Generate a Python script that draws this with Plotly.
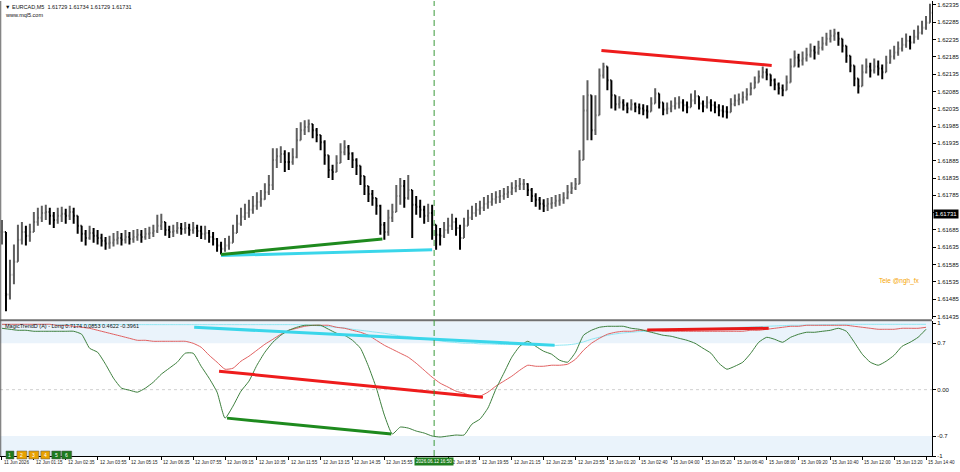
import plotly.graph_objects as go

# ---------------- price data (10-minute bars, index = bar number) ----------------
closes = [
 1.61679, 1.61499, 1.61556, 1.61593, 1.61657, 1.61679, 1.61668, 1.61679, 1.61708, 1.61720,
 1.61734, 1.61737, 1.61726, 1.61714, 1.61726, 1.61732, 1.61726, 1.61737, 1.61726, 1.61697,
 1.61674, 1.61662, 1.61676, 1.61668, 1.61662, 1.61654, 1.61646, 1.61648, 1.61657, 1.61662,
 1.61657, 1.61665, 1.61659, 1.61665, 1.61671, 1.61665, 1.61674, 1.61676, 1.61682, 1.61697,
 1.61708, 1.61685, 1.61679, 1.61682, 1.61691, 1.61688, 1.61691, 1.61685, 1.61691, 1.61682,
 1.61674, 1.61676, 1.61665, 1.61659, 1.61640, 1.61631, 1.61640, 1.61648, 1.61676, 1.61703,
 1.61723, 1.61734, 1.61743, 1.61755, 1.61766, 1.61774, 1.61794, 1.61815, 1.61887, 1.61898,
 1.61904, 1.61881, 1.61881, 1.61895, 1.61944, 1.61973, 1.61982, 1.61991, 1.61973, 1.61959,
 1.61938, 1.61901, 1.61858, 1.61852, 1.61878, 1.61909, 1.61924, 1.61906, 1.61887, 1.61870,
 1.61841, 1.61812, 1.61789, 1.61777, 1.61755, 1.61700, 1.61679, 1.61720, 1.61737, 1.61783,
 1.61812, 1.61777, 1.61800, 1.61758, 1.61752, 1.61743, 1.61726, 1.61734, 1.61700, 1.61671,
 1.61668, 1.61685, 1.61697, 1.61708, 1.61691, 1.61662, 1.61697, 1.61720, 1.61734, 1.61743,
 1.61749, 1.61761, 1.61766, 1.61774, 1.61780, 1.61783, 1.61789, 1.61794, 1.61806, 1.61812,
 1.61818, 1.61818, 1.61800, 1.61783, 1.61772, 1.61761, 1.61755, 1.61761, 1.61763, 1.61769,
 1.61772, 1.61777, 1.61794, 1.61806, 1.61818, 1.61887, 1.62030, 1.62074, 1.61973, 1.62016,
 1.62131, 1.62157, 1.62117, 1.62074, 1.62048, 1.62053, 1.62045, 1.62036, 1.62048, 1.62039,
 1.62036, 1.62030, 1.62027, 1.62050, 1.62079, 1.62053, 1.62033, 1.62036, 1.62042, 1.62050,
 1.62053, 1.62045, 1.62039, 1.62059, 1.62071, 1.62050, 1.62042, 1.62053, 1.62045, 1.62039,
 1.62030, 1.62027, 1.62025, 1.62048, 1.62059, 1.62062, 1.62068, 1.62076, 1.62094, 1.62111,
 1.62128, 1.62140, 1.62134, 1.62117, 1.62105, 1.62094, 1.62088, 1.62111, 1.62157, 1.62183,
 1.62174, 1.62180, 1.62191, 1.62203, 1.62197, 1.62211, 1.62223, 1.62237, 1.62246, 1.62252,
 1.62237, 1.62217, 1.62188, 1.62160, 1.62122, 1.62100, 1.62140, 1.62157, 1.62145, 1.62157,
 1.62151, 1.62140, 1.62168, 1.62186, 1.62197, 1.62209, 1.62220, 1.62231, 1.62226, 1.62243,
 1.62254, 1.62269, 1.62283, 1.62312]

highs = [
 1.61714, 1.61657, 1.61599, 1.61643, 1.61700, 1.61708, 1.61697, 1.61703, 1.61737, 1.61749,
 1.61755, 1.61758, 1.61749, 1.61737, 1.61749, 1.61752, 1.61746, 1.61755, 1.61749, 1.61726,
 1.61697, 1.61685, 1.61697, 1.61691, 1.61685, 1.61674, 1.61665, 1.61668, 1.61676, 1.61682,
 1.61676, 1.61685, 1.61679, 1.61685, 1.61688, 1.61685, 1.61691, 1.61694, 1.61700, 1.61729,
 1.61732, 1.61703, 1.61697, 1.61700, 1.61708, 1.61705, 1.61708, 1.61703, 1.61708, 1.61700,
 1.61697, 1.61697, 1.61685, 1.61679, 1.61662, 1.61651, 1.61662, 1.61668, 1.61700, 1.61729,
 1.61749, 1.61761, 1.61772, 1.61783, 1.61794, 1.61800, 1.61820, 1.61844, 1.61921, 1.61921,
 1.61927, 1.61915, 1.61909, 1.61921, 1.61979, 1.61996, 1.62002, 1.62004, 1.61991, 1.61979,
 1.61959, 1.61944, 1.61901, 1.61873, 1.61901, 1.61935, 1.61944, 1.61930, 1.61909, 1.61892,
 1.61864, 1.61835, 1.61812, 1.61800, 1.61777, 1.61758, 1.61708, 1.61743, 1.61761, 1.61815,
 1.61835, 1.61829, 1.61844, 1.61786, 1.61783, 1.61772, 1.61755, 1.61761, 1.61758, 1.61700,
 1.61691, 1.61708, 1.61720, 1.61732, 1.61720, 1.61700, 1.61720, 1.61743, 1.61755, 1.61763,
 1.61769, 1.61780, 1.61786, 1.61792, 1.61797, 1.61800, 1.61806, 1.61812, 1.61823, 1.61829,
 1.61835, 1.61832, 1.61820, 1.61806, 1.61791, 1.61780, 1.61774, 1.61777, 1.61780, 1.61786,
 1.61789, 1.61794, 1.61815, 1.61823, 1.61835, 1.61915, 1.62074, 1.62117, 1.62059, 1.62074,
 1.62151, 1.62168, 1.62151, 1.62103, 1.62071, 1.62071, 1.62062, 1.62053, 1.62062, 1.62053,
 1.62050, 1.62048, 1.62045, 1.62068, 1.62094, 1.62074, 1.62050, 1.62053, 1.62059, 1.62068,
 1.62071, 1.62062, 1.62056, 1.62079, 1.62088, 1.62068, 1.62059, 1.62071, 1.62062, 1.62056,
 1.62048, 1.62045, 1.62042, 1.62065, 1.62076, 1.62079, 1.62085, 1.62094, 1.62111, 1.62128,
 1.62145, 1.62157, 1.62151, 1.62134, 1.62122, 1.62111, 1.62105, 1.62131, 1.62180, 1.62203,
 1.62194, 1.62200, 1.62211, 1.62223, 1.62217, 1.62231, 1.62243, 1.62254, 1.62263, 1.62266,
 1.62257, 1.62237, 1.62209, 1.62180, 1.62145, 1.62122, 1.62163, 1.62180, 1.62168, 1.62180,
 1.62174, 1.62163, 1.62188, 1.62206, 1.62217, 1.62229, 1.62240, 1.62252, 1.62246, 1.62263,
 1.62275, 1.62289, 1.62303, 1.62338]

lows = [
 1.61643, 1.61450, 1.61484, 1.61528, 1.61593, 1.61643, 1.61640, 1.61651, 1.61679, 1.61697,
 1.61708, 1.61714, 1.61700, 1.61691, 1.61703, 1.61708, 1.61703, 1.61714, 1.61703, 1.61674,
 1.61651, 1.61640, 1.61657, 1.61648, 1.61643, 1.61637, 1.61628, 1.61631, 1.61637, 1.61643,
 1.61640, 1.61646, 1.61643, 1.61648, 1.61654, 1.61648, 1.61657, 1.61659, 1.61665, 1.61676,
 1.61685, 1.61668, 1.61662, 1.61665, 1.61674, 1.61671, 1.61674, 1.61668, 1.61674, 1.61665,
 1.61659, 1.61657, 1.61648, 1.61640, 1.61622, 1.61614, 1.61622, 1.61628, 1.61651, 1.61679,
 1.61697, 1.61714, 1.61720, 1.61732, 1.61743, 1.61752, 1.61772, 1.61786, 1.61800, 1.61864,
 1.61878, 1.61852, 1.61858, 1.61873, 1.61892, 1.61944, 1.61959, 1.61967, 1.61950, 1.61938,
 1.61915, 1.61873, 1.61835, 1.61829, 1.61852, 1.61887, 1.61901, 1.61887, 1.61864, 1.61844,
 1.61815, 1.61786, 1.61766, 1.61755, 1.61729, 1.61671, 1.61657, 1.61668, 1.61708, 1.61743,
 1.61758, 1.61749, 1.61772, 1.61662, 1.61729, 1.61720, 1.61703, 1.61708, 1.61657, 1.61628,
 1.61640, 1.61662, 1.61674, 1.61685, 1.61668, 1.61628, 1.61674, 1.61700, 1.61714, 1.61723,
 1.61729, 1.61740, 1.61746, 1.61755, 1.61761, 1.61763, 1.61772, 1.61777, 1.61786, 1.61794,
 1.61800, 1.61800, 1.61783, 1.61766, 1.61752, 1.61743, 1.61737, 1.61740, 1.61746, 1.61752,
 1.61755, 1.61761, 1.61774, 1.61789, 1.61800, 1.61864, 1.61887, 1.61944, 1.61944, 1.61959,
 1.62030, 1.62122, 1.62088, 1.62036, 1.62030, 1.62036, 1.62030, 1.62022, 1.62030, 1.62025,
 1.62019, 1.62016, 1.62007, 1.62030, 1.62053, 1.62036, 1.62016, 1.62019, 1.62025, 1.62033,
 1.62036, 1.62027, 1.62022, 1.62042, 1.62048, 1.62033, 1.62025, 1.62036, 1.62027, 1.62022,
 1.62013, 1.62010, 1.62007, 1.62030, 1.62042, 1.62045, 1.62050, 1.62059, 1.62074, 1.62094,
 1.62111, 1.62122, 1.62117, 1.62100, 1.62088, 1.62076, 1.62071, 1.62094, 1.62131, 1.62160,
 1.62154, 1.62160, 1.62171, 1.62183, 1.62177, 1.62191, 1.62203, 1.62217, 1.62226, 1.62231,
 1.62217, 1.62197, 1.62168, 1.62140, 1.62100, 1.62079, 1.62117, 1.62137, 1.62125, 1.62137,
 1.62131, 1.62120, 1.62148, 1.62165, 1.62177, 1.62188, 1.62200, 1.62211, 1.62206, 1.62223,
 1.62234, 1.62249, 1.62263, 1.62283]

# ---------------- oscillator data (every 2nd bar) ----------------
osc_green = [
 0.925, 0.910, 0.895, 0.895, 0.880, 0.880, 0.880, 0.880, 0.880, 0.880,
 0.835, 0.624, 0.564, 0.383, 0.173, 0.023, -0.008, -0.038, 0.023, 0.113,
 0.233, 0.323, 0.414, 0.549, 0.549, 0.353, 0.173, -0.038, -0.430, -0.248,
 -0.023, 0.128, 0.368, 0.564, 0.714, 0.820, 0.895, 0.940, 0.970, 0.970,
 0.970, 0.910, 0.850, 0.820, 0.744, 0.624, 0.353, 0.023, -0.383, -0.669,
 -0.564, -0.579, -0.624, -0.654, -0.699, -0.714, -0.699, -0.684, -0.684, -0.519,
 -0.444, -0.278, 0.008, 0.248, 0.489, 0.654, 0.729, 0.654, 0.579, 0.534,
 0.444, 0.414, 0.564, 0.820, 0.895, 0.940, 0.955, 0.955, 0.955, 0.925,
 0.910, 0.880, 0.850, 0.820, 0.805, 0.774, 0.744, 0.699, 0.624, 0.549,
 0.398, 0.308, 0.353, 0.414, 0.549, 0.714, 0.789, 0.759, 0.714, 0.789,
 0.835, 0.865, 0.865, 0.880, 0.895, 0.925, 0.880, 0.714, 0.534, 0.414,
 0.368, 0.429, 0.519, 0.654, 0.714, 0.789, 0.910]

osc_red = [
 0.985, 0.985, 0.985, 0.985, 0.985, 0.985, 0.985, 0.970, 0.970, 0.955,
 0.940, 0.925, 0.895, 0.865, 0.835, 0.805, 0.774, 0.744, 0.744, 0.729,
 0.729, 0.729, 0.729, 0.729, 0.699, 0.639, 0.519, 0.414, 0.308, 0.323,
 0.429, 0.504, 0.594, 0.684, 0.759, 0.835, 0.895, 0.925, 0.955, 0.970,
 0.970, 0.970, 0.940, 0.925, 0.895, 0.865, 0.820, 0.744, 0.669, 0.609,
 0.549, 0.489, 0.398, 0.293, 0.188, 0.098, 0.038, -0.023, -0.053, -0.098,
 -0.098, -0.038, 0.053, 0.128, 0.203, 0.293, 0.368, 0.353, 0.353, 0.368,
 0.368, 0.383, 0.459, 0.594, 0.699, 0.774, 0.835, 0.865, 0.880, 0.880,
 0.895, 0.895, 0.895, 0.880, 0.880, 0.880, 0.880, 0.880, 0.880, 0.880,
 0.880, 0.880, 0.880, 0.880, 0.895, 0.895, 0.910, 0.925, 0.940, 0.955,
 0.955, 0.970, 0.970, 0.970, 0.970, 0.970, 0.970, 0.955, 0.940, 0.925,
 0.910, 0.910, 0.910, 0.925, 0.925, 0.925, 0.940]

osc_cyan = [
 0.980, 0.980, 0.980, 0.980, 0.980, 0.980, 0.980, 0.980, 0.980, 0.980,
 0.980, 0.980, 0.980, 0.980, 0.980, 0.980, 0.980, 0.980, 0.980, 0.980,
 0.980, 0.980, 0.980, 0.980, 0.980, 0.980, 0.980, 0.980, 0.980, 0.980,
 0.980, 0.980, 0.980, 0.980, 0.980, 0.980, 0.980, 0.980, 0.975, 0.970,
 0.960, 0.950, 0.940, 0.930, 0.910, 0.895, 0.880, 0.865, 0.850, 0.830,
 0.810, 0.800, 0.780, 0.765, 0.750, 0.735, 0.720, 0.710, 0.700, 0.700,
 0.690, 0.690, 0.685, 0.680, 0.680, 0.675, 0.670, 0.670, 0.665, 0.665,
 0.670, 0.675, 0.690, 0.720, 0.760, 0.790, 0.820, 0.840, 0.855, 0.865,
 0.875, 0.880, 0.885, 0.890, 0.895, 0.900, 0.905, 0.910, 0.915, 0.920,
 0.925, 0.930, 0.935, 0.940, 0.945, 0.950, 0.955, 0.960, 0.965, 0.970,
 0.970, 0.975, 0.975, 0.980, 0.980, 0.985, 0.985, 0.985, 0.985, 0.985,
 0.985, 0.985, 0.985, 0.985, 0.985, 0.985, 0.985]

# ---------------- drawn objects (bar index, value) ----------------
price_green_line = {"x": [55, 95.5], "y": [1.61614, 1.61659]}
price_cyan_line = {"x": [55, 108], "y": [1.61611, 1.61628]}
price_red_line = {"x": [150.5, 193.25], "y": [1.62203, 1.62160]}
osc_cyan_line = {"x": [48.25, 138.75], "y": [0.94, 0.669]}
osc_red_line = {"x": [54.5, 120.75], "y": [0.278, -0.113]}
osc_green_line = {"x": [56.5, 97.75], "y": [-0.429, -0.669]}
osc_red_line2 = {"x": [162, 192.5], "y": [0.90, 0.925]}
cursor_bar = 108.5
cursor_label = "2026.06.12 16:50"
last_price = 1.61731

# ---------------- axis labels ----------------
time_tick_bars = [0, 8, 16, 24, 32, 40, 48, 56, 64, 72, 80, 88, 96, 104, 112,
                  120, 128, 136, 144, 152, 160, 168, 176, 184, 192, 200, 208, 216, 224, 232]
time_tick_labels = ["11 Jun 2026", "12 Jun 01:15", "12 Jun 02:35", "12 Jun 03:55", "12 Jun 05:15",
                    "12 Jun 06:35", "12 Jun 07:55", "12 Jun 09:15", "12 Jun 10:35", "12 Jun 11:55",
                    "12 Jun 13:15", "12 Jun 14:35", "12 Jun 15:55", "", "12 Jun 18:35",
                    "12 Jun 19:55", "12 Jun 21:15", "12 Jun 22:35", "12 Jun 23:55", "15 Jun 01:20",
                    "15 Jun 02:40", "15 Jun 04:00", "15 Jun 05:20", "15 Jun 06:40", "15 Jun 08:00",
                    "15 Jun 09:20", "15 Jun 10:40", "15 Jun 12:00", "15 Jun 13:20", "15 Jun 14:40"]
price_ticks = [1.61435, 1.61485, 1.61535, 1.61585, 1.61635, 1.61685, 1.61735, 1.61785, 1.61835,
               1.61885, 1.61935, 1.61985, 1.62035, 1.62085, 1.62135, 1.62185, 1.62235, 1.62285, 1.62335]
price_tick_text = ["1.61435", "1.61485", "1.61535", "1.61585", "1.61635", "1.61685", "", "1.61785",
                   "1.61835", "1.61885", "1.61935", "1.61985", "1.62035", "1.62085", "1.62135",
                   "1.62185", "1.62235", "1.62285", "1.62335"]
osc_ticks = [1, 0.7, 0, -0.7, -1]
osc_tick_text = ["1", "0.7", "0.00", "-0.7", "-1"]

FONT = "Liberation Sans"
bars = list(range(len(closes)))
opens = [closes[0]] + closes[:-1]
highs = [max(h, o, c) for h, o, c in zip(highs, opens, closes)]
lows = [min(l, o, c) for l, o, c in zip(lows, opens, closes)]
osc_x = list(range(0, 2 * len(osc_green), 2))

fig = go.Figure()
fig.add_trace(go.Ohlc(x=bars, open=opens, high=highs, low=lows, close=closes,
                      xaxis="x", yaxis="y", tickwidth=0.3,
                      increasing=dict(line=dict(color="#5e5e5e", width=2)),
                      decreasing=dict(line=dict(color="#000000", width=2)),
                      showlegend=False, hoverinfo="skip"))

def seg(d, color, width, xa="x", ya="y"):
    fig.add_trace(go.Scatter(x=d["x"], y=d["y"], mode="lines", xaxis=xa, yaxis=ya,
                             line=dict(color=color, width=width), showlegend=False, hoverinfo="skip"))

seg(price_cyan_line, "#3ad6ea", 3)
seg(price_green_line, "#1e8a1e", 3)
seg(price_red_line, "#ee1c1c", 3)

fig.add_trace(go.Scatter(x=osc_x, y=osc_cyan, mode="lines", xaxis="x2", yaxis="y2",
                         line=dict(color="#8fe6f2", width=1, shape="spline", smoothing=0.5),
                         showlegend=False, hoverinfo="skip"))
fig.add_trace(go.Scatter(x=osc_x, y=osc_red, mode="lines", xaxis="x2", yaxis="y2",
                         line=dict(color="#e06060", width=1, shape="spline", smoothing=0.5),
                         showlegend=False, hoverinfo="skip"))
fig.add_trace(go.Scatter(x=osc_x, y=osc_green, mode="lines", xaxis="x2", yaxis="y2",
                         line=dict(color="#3d7f3d", width=1, shape="spline", smoothing=0.5),
                         showlegend=False, hoverinfo="skip"))
seg(osc_cyan_line, "#3ad6ea", 3, "x2", "y2")
seg(osc_red_line, "#ee1c1c", 3, "x2", "y2")
seg(osc_green_line, "#1e8a1e", 3, "x2", "y2")
seg(osc_red_line2, "#e81818", 3, "x2", "y2")

band = "#eaf3fb"
shapes = [
    dict(type="rect", xref="paper", x0=0, x1=1, yref="y2", y0=0.7, y1=1.03,
         fillcolor=band, line=dict(width=0), layer="below"),
    dict(type="rect", xref="paper", x0=0, x1=1, yref="y2", y0=-1, y1=-0.7,
         fillcolor=band, line=dict(width=0), layer="below"),
    dict(type="line", xref="paper", x0=0, x1=1, yref="y2", y0=0, y1=0,
         line=dict(color="#d0d0d0", width=1, dash="dot"), layer="below"),
    dict(type="line", xref="paper", x0=0, x1=1, yref="paper", y0=0.2982, y1=0.2982,
         line=dict(color="#707070", width=2)),
    dict(type="line", xref="paper", x0=0.0008, x1=0.0008, yref="paper", y0=0, y1=1,
         line=dict(color="#606060", width=1)),
    dict(type="line", xref="x", x0=cursor_bar, x1=cursor_bar, yref="paper", y0=0, y1=1,
         line=dict(color="#3a9a3a", width=1, dash="6px,4px")),
]

# bottom-left buttons
btn_cols = ["#1e7a1e", "#e8a100", "#e8a100", "#e8a100", "#1e7a1e", "#1e7a1e"]
btn_x = [(6, 14), (17, 27), (29, 39), (41, 50), (52, 61), (62, 72)]
annotations = []
for i, ((a, b), c) in enumerate(zip(btn_x, btn_cols)):
    shapes.append(dict(type="rect", xref="paper", x0=a / 936, x1=b / 936, yref="paper",
                       y0=(456 - 459) / 456, y1=(456 - 451) / 456, fillcolor=c,
                       line=dict(color="#555555", width=0.5)))
    annotations.append(dict(xref="paper", yref="paper", x=(a + b) / 2 / 936, y=(456 - 455) / 456,
                            text=str(i + 1), showarrow=False, font=dict(size=5, color="white", family=FONT),
                            xanchor="center", yanchor="middle"))

for tb, tl in zip(time_tick_bars, time_tick_labels):
    if tl:
        annotations.append(dict(xref="x2", x=tb, yref="paper", y=0, text=tl, showarrow=False,
                                xanchor="left", yanchor="top", xshift=0, yshift=-2,
                                font=dict(size=4.6, color="#222222", family=FONT)))
annotations.append(dict(xref="x2", x=cursor_bar, yref="paper", y=0, text=cursor_label, showarrow=False,
                        xanchor="center", yanchor="top", yshift=-1, bgcolor="#1f7f1f", borderpad=1,
                        font=dict(size=4.6, color="white", family=FONT)))
annotations.append(dict(xref="paper", x=1, yref="y", y=last_price, text="1.61731", showarrow=False,
                        xanchor="left", yanchor="middle", xshift=1, bgcolor="black", borderpad=1,
                        font=dict(size=6, color="white", family=FONT)))
annotations.append(dict(xref="paper", x=3 / 936, yref="paper", y=1 - 1 / 456, showarrow=False,
                        text="▼ EURCAD,M5  1.61729 1.61734 1.61729 1.61731", xanchor="left", yanchor="top",
                        font=dict(size=5.5, color="#111111", family=FONT)))
annotations.append(dict(xref="paper", x=3 / 936, yref="paper", y=1 - 9 / 456, showarrow=False,
                        text="www.mql5.com", xanchor="left", yanchor="top",
                        font=dict(size=5.5, color="#111111", family=FONT)))
annotations.append(dict(xref="paper", x=3 / 936, yref="paper", y=(456 - 321) / 456, showarrow=False,
                        text="MagicTrendD (A) - Long 0.7174 0.0853 0.4622 -0.3961", xanchor="left",
                        yanchor="top", font=dict(size=5.5, color="#111111", family=FONT)))
annotations.append(dict(xref="paper", x=926 / 936, yref="paper", y=(456 - 281) / 456, showarrow=False,
                        text="Tele @ngh_fx", xanchor="right", yanchor="middle",
                        font=dict(size=6.5, color="#f5a300", family=FONT)))

xr = [-0.5, 233.5]
fig.update_layout(
    width=960, height=472, margin=dict(l=0, r=24, t=0, b=16),
    paper_bgcolor="white", plot_bgcolor="white",
    font=dict(family=FONT, size=6, color="#111111"),
    showlegend=False, hovermode=False,
    xaxis=dict(domain=[0, 1], range=xr, anchor="y", showticklabels=False, showgrid=False,
               zeroline=False, showline=False, rangeslider=dict(visible=False), fixedrange=True),
    yaxis=dict(domain=[0.3004, 1], range=[1.61427, 1.62346], side="right", anchor="x",
               tickvals=price_ticks, ticktext=price_tick_text, ticks="outside", ticklen=3,
               tickcolor="black", showline=True, linecolor="black", linewidth=1, showgrid=False,
               zeroline=False, tickfont=dict(size=6, family=FONT, color="#111111")),
    xaxis2=dict(domain=[0, 1], range=xr, anchor="y2", tickvals=time_tick_bars, ticks="outside",
                ticklen=3, tickcolor="black", showticklabels=False, showline=True, linecolor="black",
                linewidth=1, showgrid=False, zeroline=False),
    yaxis2=dict(domain=[0, 0.296], range=[-1, 1.03], side="right", anchor="x2",
                tickvals=osc_ticks, ticktext=osc_tick_text, ticks="outside", ticklen=3,
                tickcolor="black", showline=True, linecolor="black", linewidth=1, showgrid=False,
                zeroline=False, tickfont=dict(size=6, family=FONT, color="#111111")),
    shapes=shapes, annotations=annotations,
)

fig.write_html("out.html")
